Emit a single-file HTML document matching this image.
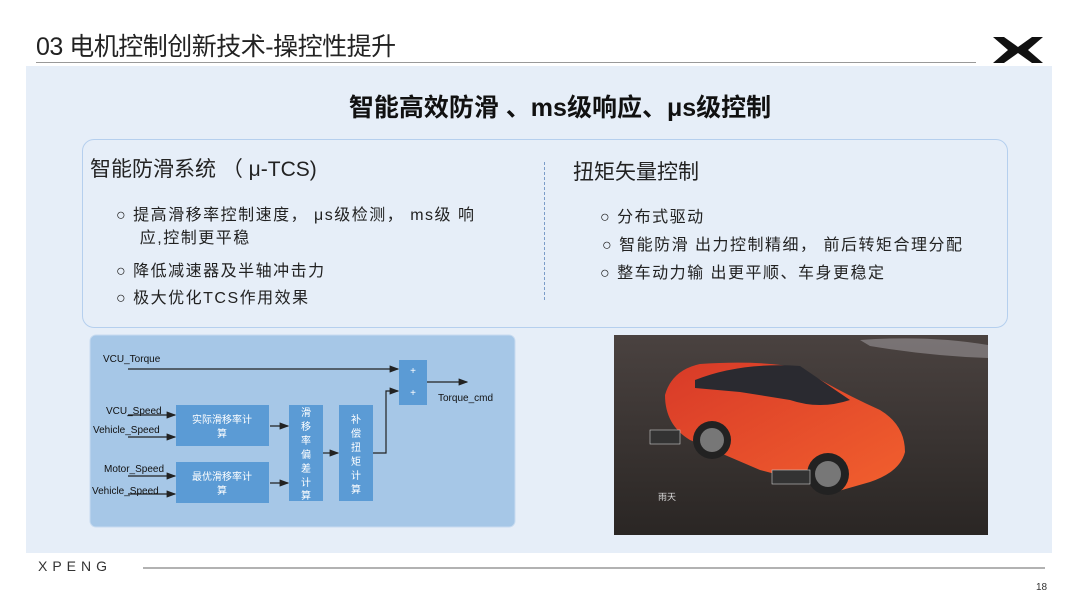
<!DOCTYPE html>
<html><head><meta charset="utf-8"><style>
body{margin:0;width:1080px;height:608px;background:#fff;position:relative;overflow:hidden;font-family:"Liberation Sans","Noto Sans CJK SC",sans-serif;color:#222}
.a{position:absolute;white-space:nowrap}
</style></head><body>
<div class="a" style="left:36px;top:27px;font-size:25px;color:#222;letter-spacing:-0.5px">03 电机控制创新技术-操控性提升</div>
<div class="a" style="left:36px;top:62px;width:940px;height:1px;background:#999"></div>
<div class="a" style="left:26px;top:66px;width:1026px;height:487px;background:#e6eef8"></div>
<svg class="a" style="left:992px;top:36px;z-index:2" width="52" height="28" viewBox="0 0 52 28"><path d="M1 1 L12 1 L26 11 L40 1 L51 1 L36 14 L51 27 L40 27 L26 17 L12 27 L1 27 L16 14Z" fill="#111"/></svg>
<div class="a" style="left:0;top:88px;width:1120px;text-align:center;font-size:25px;font-weight:bold;color:#111">智能高效防滑 、ms级响应、μs级控制</div>
<div class="a" style="left:82px;top:139px;width:924px;height:187px;border:1.5px solid #b5cfee;border-radius:12px"></div>
<div class="a" style="left:544px;top:162px;width:0;height:138px;border-left:1px dashed #7a9cc8"></div>
<div class="a" style="left:90px;top:153px;font-size:21px">智能防滑系统 （ μ-TCS)</div>
<div class="a" style="left:116px;top:204px;font-size:16px;line-height:23px;letter-spacing:1.5px">○ 提高滑移率控制速度， μs级检测， ms级 响<br>&nbsp;&nbsp;&nbsp;&nbsp;应,控制更平稳</div>
<div class="a" style="left:116px;top:257px;font-size:16px;letter-spacing:1.5px">○ 降低减速器及半轴冲击力</div>
<div class="a" style="left:116px;top:284px;font-size:16px;letter-spacing:1.5px">○ 极大优化TCS作用效果</div>
<div class="a" style="left:573px;top:156px;font-size:21px">扭矩矢量控制</div>
<div class="a" style="left:600px;top:203px;font-size:16px;letter-spacing:1.5px">○ 分布式驱动</div>
<div class="a" style="left:602px;top:231px;font-size:16px;letter-spacing:1.5px">○ 智能防滑 出力控制精细， 前后转矩合理分配</div>
<div class="a" style="left:600px;top:259px;font-size:16px;letter-spacing:1.5px">○ 整车动力输 出更平顺、车身更稳定</div>
<svg class="a" style="left:0;top:0" width="1080" height="608">
<defs><marker id="m" markerWidth="8" markerHeight="6" refX="7" refY="3" orient="auto"><path d="M0 0L8 3L0 6Z" fill="#222"/></marker></defs>
<rect x="90" y="335" width="425" height="192" rx="6" fill="#a6c7e7" stroke="#c8dbf0"/>
<g font-size="10" fill="#111" font-family="Liberation Sans,sans-serif">
<text x="103" y="362">VCU_Torque</text><text x="438" y="401">Torque_cmd</text>
<text x="106" y="414">VCU_Speed</text><text x="93" y="433">Vehicle_Speed</text>
<text x="104" y="472">Motor_Speed</text><text x="92" y="494">Vehicle_Speed</text>
</g>
<g fill="#5b9bd5"><rect x="399" y="360" width="28" height="45"/><rect x="176" y="405" width="93" height="41"/><rect x="176" y="462" width="93" height="41"/><rect x="289" y="405" width="34" height="96"/><rect x="339" y="405" width="34" height="96"/></g>
<g stroke="#222" stroke-width="1.2" fill="none" marker-end="url(#m)">
<path d="M128 369H398"/><path d="M427 382H467"/><path d="M128 415H175"/><path d="M128 437H175"/><path d="M128 476H175"/><path d="M128 494H175"/>
<path d="M270 426H288"/><path d="M270 483H288"/><path d="M323 453H338"/><path d="M373 453H386V391H398"/>
</g>
<g fill="#fff" font-size="10" text-anchor="middle" font-family="Liberation Sans,Noto Sans CJK SC,sans-serif">
<text x="413" y="374">+</text><text x="413" y="396">+</text>
<text x="222" y="423">实际滑移率计</text><text x="222" y="437">算</text>
<text x="222" y="480">最优滑移率计</text><text x="222" y="494">算</text>
<text x="306" y="416">滑</text><text x="306" y="430">移</text><text x="306" y="444">率</text><text x="306" y="458">偏</text><text x="306" y="472">差</text><text x="306" y="486">计</text><text x="306" y="499">算</text>
<text x="356" y="423">补</text><text x="356" y="437">偿</text><text x="356" y="451">扭</text><text x="356" y="465">矩</text><text x="356" y="479">计</text><text x="356" y="493">算</text>
</g>
<defs><linearGradient id="g" x1="0" y1="0" x2="0" y2="1"><stop offset="0" stop-color="#4a4240"/><stop offset="1" stop-color="#2a2624"/></linearGradient>
<linearGradient id="c" x1="0" y1="0" x2="1" y2="1"><stop offset="0" stop-color="#d83a28"/><stop offset="1" stop-color="#f2602e"/></linearGradient></defs>
<rect x="614" y="335" width="374" height="200" fill="url(#g)"/>
<path d="M860 340Q930 335 988 345V358Q930 356 870 346Z" fill="#9a9498" opacity=".6"/>
<path d="M665 395Q672 370 700 364Q760 360 800 368Q840 392 880 410Q905 425 905 452Q900 472 870 482L835 492Q800 480 760 470L690 440Q665 425 665 395Z" fill="url(#c)"/>
<path d="M695 380Q740 362 800 366L850 400Q820 410 790 400L740 392L695 388Z" fill="#2a2a30"/>
<circle cx="712" cy="440" r="19" fill="#222"/><circle cx="712" cy="440" r="12" fill="#777"/>
<circle cx="828" cy="474" r="21" fill="#222"/><circle cx="828" cy="474" r="13" fill="#777"/>
<text x="658" y="500" fill="#ddd" font-size="9" font-family="Noto Sans CJK SC,sans-serif">雨天</text>
<rect x="650" y="430" width="30" height="14" fill="#333" stroke="#ccc" stroke-width=".6"/>
<rect x="772" y="470" width="38" height="14" fill="#333" stroke="#ccc" stroke-width=".6"/>
<line x1="143" y1="568" x2="1045" y2="568" stroke="#999" stroke-width="1.5"/>
</svg>
<div class="a" style="left:38px;top:558px;font-size:14px;letter-spacing:5px;color:#333">XPENG</div>
<div class="a" style="left:1036px;top:582px;font-size:10px;color:#333">18</div>
</body></html>
